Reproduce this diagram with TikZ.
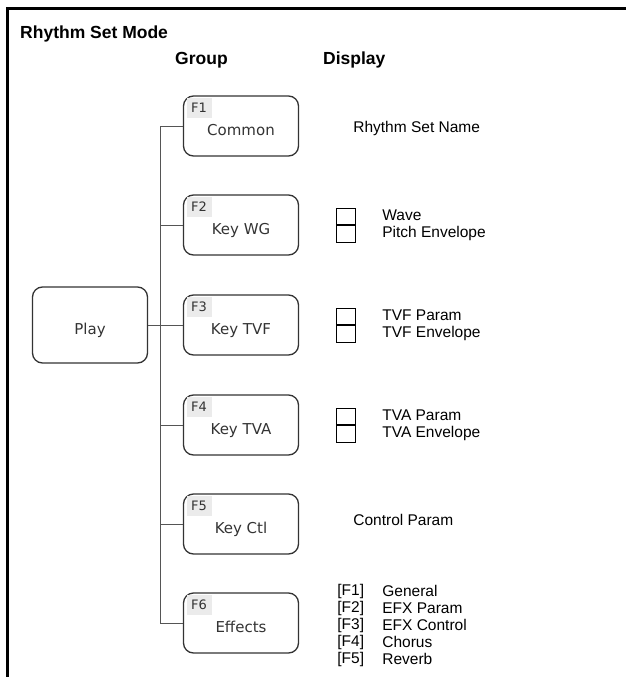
\documentclass[tikz,border=0pt]{standalone}
\usepackage{fontspec}
\setmainfont{Liberation Sans}
\newfontfamily\boxfont{DejaVu Sans}
\usetikzlibrary{positioning}
\definecolor{edgegray}{HTML}{333333}
\definecolor{trunkgray}{HTML}{555555}
\definecolor{taggray}{HTML}{EBEBEB}

\begin{document}
\begin{tikzpicture}[x=1pt,y=-1pt,
    grp/.style={draw=edgegray,line width=1.3pt,rounded corners=10pt,
      minimum width=115pt,minimum height=60pt,text=black!80,
      text height=19pt,text depth=0pt,
      font=\boxfont\fontsize{15}{17}\selectfont},
    fkey/.style={fill=taggray,inner sep=0pt,anchor=north west,
      minimum width=25pt,minimum height=20pt,
      xshift=3.5pt,yshift=-2pt,text=black!80,
      font=\boxfont\fontsize{13}{15}\selectfont},
    disp/.style={align=left,inner sep=0pt,
      font=\fontsize{15.5}{17}\selectfont},
    head/.style={anchor=base west,inner sep=0pt,
      font=\bfseries\fontsize{17.5}{20}\selectfont},
    sq/.style={draw,line width=0.8pt,minimum width=19pt,
      minimum height=16.5pt,inner sep=0pt},
    link/.style={draw=trunkgray,line width=1pt}
  ]
  \useasboundingbox (0,0) rectangle (626,677);
  % frame
  \draw[line width=3pt] (7,677) -- (7,9) -- (626,9);
  \node[head] (title) at (20,39) {Rhythm Set Mode};
  \node[head] (hgroup) at (175,64) {Group};
  \node[head] (hdisp) at (323,64) {Display};

  % groups
  \node[grp,minimum height=76pt] (play) at (90,325) {Play};
  \node[grp] (common) at (241,126) {Common};
  \node[grp] (keywg) at (241,225) {Key WG};
  \node[grp] (keytvf) at (241,325) {Key TVF};
  \node[grp] (keytva) at (241,425) {Key TVA};
  \node[grp] (keyctl) at (241,524) {Key Ctl};
  \node[grp] (effects) at (241,623) {Effects};
  \node[fkey] (f1) at (common.north west) {F1};
  \node[fkey] (f2) at (keywg.north west) {F2};
  \node[fkey] (f3) at (keytvf.north west) {F3};
  \node[fkey] (f4) at (keytva.north west) {F4};
  \node[fkey] (f5) at (keyctl.north west) {F5};
  \node[fkey] (f6) at (effects.north west) {F6};

  % tree
  \draw[link] (common.west) -- ++(-22,0) |- (effects.west);
  \foreach \g in {keywg,keytva,keyctl}
    \draw[link] (\g.west) -- ++(-22,0);
  \draw[link] (play.east) -- (keytvf.west);

  % display
  \node[disp,right=54pt of common.east,yshift=-2pt] (rsname) {Rhythm Set Name};
  \foreach \g/\a/\b in {keywg/Wave/Pitch Envelope,
      keytvf/TVF Param/TVF Envelope,keytva/TVA Param/TVA Envelope}{
    \node[sq,right=37pt of \g.east,anchor=south west] (\g up) {};
    \node[sq,below=0pt of \g up] (\g lo) {};
    \node[disp,right=83pt of \g.east] (\g txt) {\a\\\b};
  }
  \node[disp,right=54pt of keyctl.east,yshift=4pt] (ctlparam) {Control Param};
  \node[disp,right=38pt of effects.east,yshift=-2pt] (fxkeys)
    {[F1]\\{[F2]}\\{[F3]}\\{[F4]}\\{[F5]}};
  \node[disp,right=83pt of effects.east,yshift=-2pt] (fxnames)
    {General\\EFX Param\\EFX Control\\Chorus\\Reverb};
\end{tikzpicture}
\end{document}
